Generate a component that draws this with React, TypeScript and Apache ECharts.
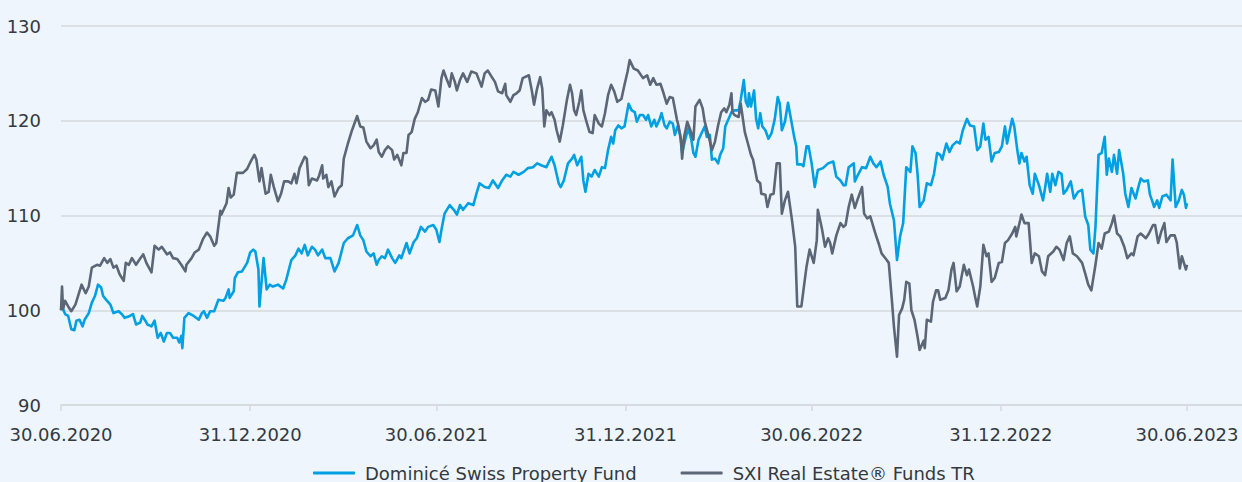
import React, { useEffect, useRef } from "react";
import * as echarts from "echarts";

// [days since 30.06.2020, index value]
const dominicePoints: [number, number][] = [
  [0,100.0],[1,100.4],[4,99.6],[7,99.4],[10,98.0],[13,97.9],[15,98.9],[18,99.0],[21,98.3],[23,99.0],[27,99.7],[30,100.8],[33,101.5],[36,102.7],[39,102.4],[41,101.5],[44,101.1],[48,100.6],[51,99.7],[56,99.9],[59,99.6],[62,99.2],[67,99.4],[70,99.6],[73,98.5],[77,98.7],[79,99.4],[82,98.9],[84,98.5],[88,98.3],[91,98.9],[94,97.1],[97,97.6],[100,96.7],[103,97.6],[106,97.6],[109,97.1],[113,97.1],[115,96.6],[117,97.3],[118,96.0],[120,99.2],[124,99.7],[129,99.4],[134,99.0],[137,99.7],[139,99.9],[142,99.2],[145,99.9],[149,99.9],[153,101.1],[158,101.0],[160,101.3],[163,102.2],[164,101.3],[168,102.0],[169,103.4],[172,104.0],[176,104.1],[181,105.0],[184,106.1],[187,106.4],
  [189,106.2],[192,104.3],[193,100.4],[197,105.5],[200,102.2],[203,102.7],[206,102.5],[211,102.7],[216,102.3],[219,103.2],[224,105.3],[228,105.8],[231,106.5],[234,106.0],[237,106.9],[240,105.8],[244,106.7],[247,106.4],[250,105.8],[254,106.4],[257,105.5],[262,105.5],[266,104.1],[270,105.0],[275,107.1],[279,107.6],[284,107.9],[288,109.0],[291,107.9],[294,107.4],[297,106.2],[301,105.7],[304,106.0],[307,104.8],[309,105.3],[312,105.7],[315,105.5],[318,106.4],[322,105.5],[325,105.0],[329,105.8],[331,105.5],[336,107.1],[339,106.0],[343,107.2],[346,107.6],[350,108.8],[354,108.3],[357,108.8],[362,109.0],[365,108.5],[368,107.2],[370,108.5],[373,110.2],
  [378,111.1],[382,110.6],[385,110.1],[388,111.1],[391,110.6],[396,111.3],[401,111.1],[404,112.3],[407,113.4],[412,113.0],[416,112.9],[420,113.7],[425,112.9],[429,113.7],[433,114.3],[437,114.1],[440,114.6],[445,114.3],[450,114.6],[454,115.0],[459,115.1],[463,115.5],[467,115.3],[472,115.1],[477,116.2],[480,115.3],[484,113.4],[486,113.0],[489,113.7],[493,115.5],[497,116.0],[499,116.4],[502,115.3],[506,116.2],[508,113.7],[510,112.5],[513,114.4],[516,114.1],[519,114.8],[523,114.1],[526,115.1],[529,115.0],[532,116.9],[535,118.3],[537,117.6],[539,119.0],[542,119.5],[545,119.2],[548,119.4],[552,121.8],
  [555,121.1],[558,120.9],[560,119.9],[563,120.6],[566,120.6],[569,120.1],[571,120.6],[574,119.4],[577,120.1],[579,119.4],[582,120.1],[584,120.8],[587,119.5],[589,119.2],[592,119.9],[595,119.7],[597,118.5],[600,119.5],[602,118.5],[604,116.6],[607,118.0],[610,119.2],[613,118.0],[615,116.6],[617,116.2],[620,118.0],[623,118.7],[626,119.4],[628,118.3],[631,118.5],[633,115.9],[636,116.0],[639,115.5],[641,116.4],[644,117.1],[646,119.4],[650,120.4],[652,120.9],[655,121.1],[659,121.1],[661,122.2],[664,124.3],[666,122.0],[668,121.5],[669,122.9],[671,121.5],[674,123.2],[676,120.2],[678,119.2],[680,120.8],[682,119.4],[685,119.0],[688,118.1],[691,118.7],[694,120.1],[697,122.5],[699,121.8],[701,119.0],[704,119.9],[707,121.9],[710,120.1],[713,118.3],[715,117.3],[716,115.4],[720,115.4],[722,115.2],[725,117.3],[727,117.3],[730,115.5],[733,113.0],[736,114.8],
  [741,115.0],[746,115.5],[751,115.7],[754,114.1],[758,113.7],[761,113.2],[763,113.2],[766,115.1],[771,115.5],[772,113.6],[775,114.3],[779,115.1],[783,115.0],[787,116.2],[790,115.5],[793,115.1],[797,115.7],[800,114.3],[804,113.0],[806,111.3],[810,109.5],[813,105.3],[816,107.8],[819,109.2],[822,115.1],[826,114.6],[828,117.3],[831,116.6],[833,114.4],[835,110.9],[839,111.6],[842,113.4],[846,113.2],[849,114.4],[852,116.6],[855,116.4],[857,115.9],[861,117.6],[864,116.7],[867,117.4],[871,117.8],[874,117.6],[877,119.0],[881,120.2],[884,119.5],[888,119.4],[891,116.9],[894,117.3],[897,119.7],[899,118.0],[902,118.3],[905,115.7],[908,116.6],[912,116.7],[915,117.3],[918,119.4],
  [920,117.6],[925,120.2],[927,119.4],[930,116.9],[932,115.5],[934,116.6],[937,115.7],[939,116.2],[942,113.2],[945,112.3],[947,114.4],[951,113.2],[955,111.6],[957,112.9],[959,114.4],[962,112.5],[964,114.4],[967,113.2],[970,114.6],[973,114.4],[975,112.3],[978,112.7],[982,113.6],[985,111.8],[989,112.5],[993,112.7],[996,109.9],[999,109.0],[1001,106.4],[1004,106.0],[1006,108.8],[1009,116.4],[1012,116.6],[1015,118.3],[1017,114.3],[1019,116.0],[1022,114.6],[1024,116.4],[1027,114.4],[1029,116.9],[1033,114.4],[1035,112.3],[1038,110.9],[1041,112.9],[1045,111.8],[1047,112.7],[1050,113.9],[1053,113.6],[1057,113.7],[1059,112.2],[1061,111.6],[1063,110.9],[1066,111.6],[1068,110.8],[1071,112.0],[1075,112.2],[1079,111.6],[1081,115.9],[1084,110.9],[1087,111.6],[1090,112.7],[1092,112.2],[1094,110.8],[1095,111.3],
];

const sxiPoints: [number, number][] = [
  [0,100.0],[1,102.5],[2,100.1],[4,101.0],[7,100.4],[10,99.9],[14,100.6],[20,102.7],[24,101.8],[27,102.5],[30,104.5],[35,104.8],[38,104.7],[42,105.5],[45,105.0],[48,105.4],[51,104.5],[54,104.7],[57,103.8],[61,103.1],[63,105.0],[66,104.8],[69,105.5],[73,104.8],[76,105.3],[80,105.9],[83,105.0],[88,104.0],[91,106.8],[95,106.4],[98,106.7],[103,105.9],[106,106.1],[109,105.5],[113,105.4],[117,104.8],[121,104.1],[122,104.8],[127,105.5],[130,106.1],[134,106.4],[138,107.5],[142,108.2],[145,107.8],[149,106.8],[151,107.1],[155,110.5],[156,110.1],[161,111.3],[163,112.9],[165,111.9],[168,112.2],[171,114.5],[177,114.5],[181,114.9],[184,115.6],[188,116.4],
  [190,115.9],[193,113.6],[195,115.0],[197,113.6],[199,112.3],[202,112.5],[204,114.3],[207,113.0],[211,111.5],[214,112.3],[217,113.6],[221,113.6],[224,113.4],[227,114.4],[229,113.4],[232,115.0],[237,116.2],[239,116.0],[241,113.2],[244,113.9],[249,113.7],[251,114.2],[254,115.3],[255,113.9],[258,114.3],[260,113.0],[263,113.6],[266,112.0],[270,112.9],[273,113.2],[275,116.0],[279,117.6],[283,119.0],[288,120.5],[291,119.4],[294,119.3],[297,117.8],[301,117.1],[304,117.4],[307,118.0],[309,116.7],[312,116.2],[315,116.9],[318,117.3],[322,116.9],[324,115.9],[327,116.4],[331,115.3],[333,116.6],[336,116.6],[338,118.5],[341,118.8],[344,120.2],[347,120.9],[351,122.4],[354,122.0],[357,122.2],[360,123.3],[364,123.2],[367,121.5],[370,124.5],[372,125.3],
  [375,124.4],[378,123.6],[380,125.0],[383,124.1],[385,123.2],[388,124.3],[391,125.0],[395,124.1],[399,125.2],[404,125.0],[409,123.6],[412,125.0],[415,125.3],[419,124.6],[422,124.1],[425,123.1],[429,122.9],[432,123.9],[433,122.7],[437,122.0],[440,122.7],[443,122.9],[446,123.2],[449,124.5],[455,124.8],[458,123.1],[460,121.7],[463,123.4],[466,124.6],[468,123.4],[470,119.4],[472,121.1],[475,120.6],[477,120.9],[480,120.1],[482,119.0],[485,117.8],[488,119.5],[492,122.2],[495,123.8],[497,122.9],[499,121.1],[501,120.6],[504,122.0],[506,123.2],[508,121.1],[511,119.9],[514,118.8],[517,118.7],[519,120.6],[523,119.7],[526,119.4],[529,120.8],[532,122.7],[535,123.8],[538,123.1],[541,122.0],[545,122.3],[548,123.8],[551,125.2],[553,126.4],[557,125.5],
  [561,125.3],[566,124.5],[570,124.8],[573,123.8],[576,124.5],[579,123.8],[583,123.9],[586,122.9],[589,121.8],[592,122.5],[595,122.4],[599,120.1],[600,119.7],[603,118.0],[604,116.0],[606,118.3],[609,119.9],[612,119.0],[615,118.0],[617,121.5],[621,122.2],[624,121.3],[626,119.9],[630,118.3],[633,116.9],[636,117.8],[639,119.5],[642,120.9],[645,121.3],[647,120.9],[650,121.7],[652,122.9],[653,120.9],[655,120.6],[659,120.4],[661,121.8],[665,118.8],[668,117.6],[671,116.4],[673,115.9],[677,113.7],[680,113.4],[681,112.3],[685,112.2],[687,110.9],[690,112.2],[693,112.3],[696,115.5],[699,115.5],[701,110.2],[704,111.6],[707,112.5],[711,109.4],[714,106.7],[716,100.4],[720,100.4],[722,102.1],[725,104.6],[728,106.4],
  [732,105.0],[735,107.4],[736,110.6],[740,108.6],[743,106.7],[746,107.6],[748,107.1],[750,106.0],[754,107.9],[758,109.2],[761,108.8],[763,109.0],[766,110.9],[769,112.2],[772,110.8],[775,111.8],[779,113.0],[781,110.2],[784,109.7],[787,109.9],[792,108.1],[795,107.1],[798,106.0],[803,105.3],[805,105.0],[808,101.1],[810,98.3],[813,95.1],[815,99.5],[818,100.2],[820,101.1],[822,103.0],[825,102.8],[827,100.0],[830,99.0],[833,97.2],[835,95.8],[839,96.8],[840,96.0],[842,99.0],[846,98.8],[848,100.9],[851,102.1],[853,102.1],[855,101.1],[860,101.3],[863,102.1],[866,104.3],[868,105.0],[871,102.0],[874,102.5],[878,104.8],[881,103.7],[883,104.3],[887,102.5],[889,101.4],[891,100.4],[894,102.5],[897,106.9],[900,105.7],[902,106.0],[905,103.0],[908,103.4],[912,105.0],[915,105.1],[918,107.1],
  [921,107.4],[925,108.1],[928,108.8],[929,107.8],[933,109.6],[934,110.1],[937,109.2],[941,109.2],[944,105.0],[947,106.0],[951,105.7],[954,104.1],[957,103.7],[960,105.7],[965,106.2],[968,106.7],[971,106.4],[975,105.3],[978,107.1],[981,107.8],[984,106.0],[988,105.7],[993,105.0],[996,103.9],[999,102.7],[1002,102.1],[1006,104.8],[1009,107.1],[1012,106.5],[1015,108.1],[1019,108.3],[1022,109.2],[1024,110.0],[1027,108.1],[1030,107.8],[1034,106.7],[1037,105.5],[1041,106.0],[1043,105.8],[1047,107.8],[1050,108.1],[1055,107.6],[1058,108.1],[1062,109.0],[1064,109.0],[1067,107.1],[1070,108.3],[1073,109.2],[1075,107.2],[1079,107.9],[1083,107.9],[1085,107.2],[1088,104.4],[1090,105.7],[1092,105.0],[1094,104.3],[1095,104.8],
];

const seriesNames = ["Dominicé Swiss Property Fund", "SXI Real Estate® Funds TR"];
const tickDates = ["2020-06-30", "2020-12-31", "2021-06-30", "2021-12-31", "2022-06-30", "2022-12-31", "2023-06-30"];
const tickLabels = ["30.06.2020", "31.12.2020", "30.06.2021", "31.12.2021", "30.06.2022", "31.12.2022", "30.06.2023"];
const yTicks = [90, 100, 110, 120, 130];

const START = Date.UTC(2020, 5, 30);
const DAY = 86400000;
const AXIS_END_DAYS = 1148.5;

const parseDate = (s: string) => {
  const [y, m, d] = s.split("-").map(Number);
  return Date.UTC(y, m - 1, d);
};

export default function App() {
  const ref = useRef<HTMLDivElement>(null);
  useEffect(() => {
    if (!ref.current) return;
    const chart = echarts.init(ref.current, null, { renderer: "svg" });
    const tickTs = tickDates.map(parseDate);
    const font = "'DejaVu Sans', sans-serif";
    const textColor = "#333a40";
    const gridColor = "#d6d9dc";
    chart.setOption({
      animation: false,
      backgroundColor: "#eef5fc",
      grid: { left: 61, right: 0, top: 26, bottom: 77, containLabel: false },
      legend: {
        left: 313,
        top: 464,
        padding: 0,
        icon: "roundRect",
        itemWidth: 42,
        itemHeight: 3,
        itemGap: 44,
        textStyle: { fontSize: 18, color: textColor, fontFamily: font, padding: [0, 0, 0, 5] },
        data: seriesNames,
      },
      xAxis: {
        type: "value",
        min: START,
        max: START + AXIS_END_DAYS * DAY,
        axisLine: { show: true, lineStyle: { color: gridColor, width: 1.5 } },
        axisTick: { show: true, length: 6, customValues: tickTs, lineStyle: { color: gridColor, width: 1.5 } },
        axisLabel: {
          customValues: tickTs,
          fontSize: 18,
          color: textColor,
          fontFamily: font,
          margin: 20,
          formatter: (v: number) => {
            const i = tickTs.findIndex((t) => Math.abs(t - v) < DAY / 2);
            return i >= 0 ? tickLabels[i] : "";
          },
        },
        splitLine: { show: false },
      },
      yAxis: {
        type: "value",
        min: yTicks[0],
        max: yTicks[yTicks.length - 1],
        interval: 10,
        axisLine: { show: false },
        axisTick: { show: false },
        axisLabel: { fontSize: 18, color: textColor, fontFamily: font, margin: 20 },
        splitLine: { show: true, lineStyle: { color: gridColor, width: 1.5 } },
      },
      series: [
        {
          name: seriesNames[0],
          type: "line",
          showSymbol: false,
          symbol: "none",
          color: "#00a0e2",
          lineStyle: { width: 2.6, color: "#00a0e2", join: "round" },
          data: dominicePoints.map(([d, v]) => [START + d * DAY, v]),
        },
        {
          name: seriesNames[1],
          type: "line",
          showSymbol: false,
          symbol: "none",
          color: "#5b6677",
          lineStyle: { width: 2.6, color: "#5b6677", join: "round" },
          data: sxiPoints.map(([d, v]) => [START + d * DAY, v]),
        },
      ],
    });
    return () => chart.dispose();
  }, []);
  return <div ref={ref} style={{ position: "absolute", left: 0, top: 0, width: 1242, height: 482 }} />;
}
